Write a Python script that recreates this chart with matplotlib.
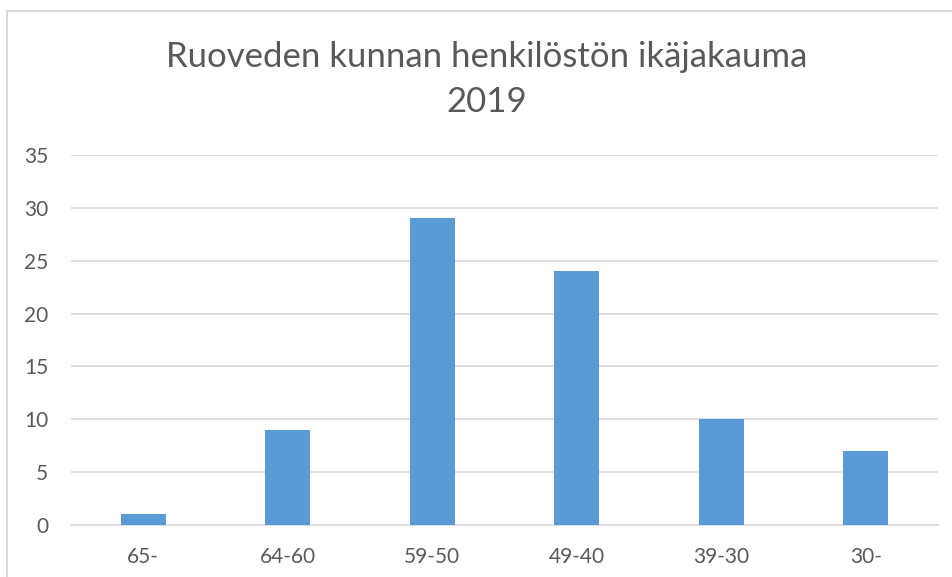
import matplotlib
matplotlib.use('Agg')
import matplotlib.pyplot as plt
from matplotlib.patches import Rectangle

# data
categories = ['65-', '64-60', '59-50', '49-40', '39-30', '30-']
values = [1, 9, 29, 24, 10, 7]
yticks = [0, 5, 10, 15, 20, 25, 30, 35]

W, H = 953, 577
fig = plt.figure(figsize=(W / 100, H / 100), dpi=100)
plt.rcParams['font.family'] = ['Lato', 'DejaVu Sans']

# plot area in pixels: x 71..938, y 155..525
ax = fig.add_axes([71 / W, 1 - 525 / H, (938 - 71) / W, (525 - 155) / H])

x = range(len(categories))
ax.bar(x, values, width=0.31, color='#5B9BD5', zorder=3)
ax.set_xlim(-0.5, len(categories) - 0.5)
ax.set_ylim(0, 35)
ax.set_yticks(yticks)
ax.set_xticks(list(x))
ax.set_xticklabels(categories)
ax.grid(axis='y', color='#D9D9D9', linewidth=1.2, zorder=0)
for s in ['top', 'right', 'left']:
    ax.spines[s].set_visible(False)
ax.spines['bottom'].set_color('#D9D9D9')
ax.spines['bottom'].set_linewidth(1.2)
ax.tick_params(axis='both', length=0, labelsize=15, colors='#595959')
ax.tick_params(axis='y', pad=16.5)
ax.tick_params(axis='x', pad=16)

# title, two lines placed by baseline
fig.text(487 / W, 1 - 67 / H, 'Ruoveden kunnan henkilöstön ikäjakauma',
         ha='center', va='baseline', fontsize=25, color='#595959')
fig.text(487 / W, 1 - 112 / H, '2019',
         ha='center', va='baseline', fontsize=25, color='#595959')

# chart border
fig.patches.append(Rectangle((7 / W, -0.1), 1.1, 1 - 11 / H + 0.1,
                             transform=fig.transFigure, fill=False,
                             edgecolor='#D9D9D9', linewidth=1.5))

fig.savefig('out.png', dpi=100)
